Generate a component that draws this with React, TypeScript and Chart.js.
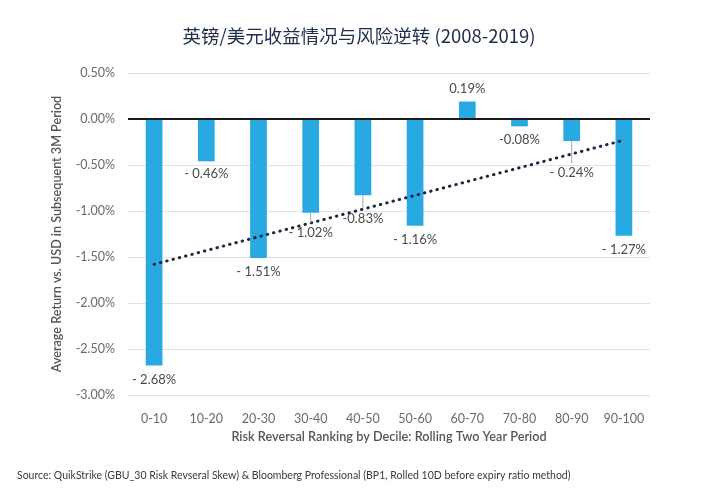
import React, { useEffect, useRef } from "react";
import { Chart, registerables } from "chart.js";

Chart.register(...registerables);

const deciles = ["0-10", "10-20", "20-30", "30-40", "40-50", "50-60", "60-70", "70-80", "80-90", "90-100"];
const avgReturn = [-2.68, -0.46, -1.51, -1.02, -0.83, -1.16, 0.19, -0.08, -0.24, -1.27];
const valueLabels = ["- 2.68%", "- 0.46%", "- 1.51%", "- 1.02%", "-0.83%", "- 1.16%", "0.19%", "-0.08%", "- 0.24%", "- 1.27%"];
const trendline = [-1.58, null, null, null, null, null, null, null, null, -0.23];

const chartTitle = "英镑/美元收益情况与风险逆转 (2008-2019)";
const sourceNote =
  "Source: QuikStrike (GBU_30 Risk Revseral Skew) & Bloomberg Professional (BP1, Rolled 10D before expiry ratio method)";

// distance from bar end to label centre, and which labels hang on a leader line
const labelGap = [14, 12, 14, 20, 23, 14, 13, 13, 32, 14];
const withLeader = [3, 4, 8];

const BAR_BLUE = "#29a9e1";
const FONT = "Lato, 'Noto Sans', sans-serif";

const annotations = {
  id: "annotations",
  afterDatasetsDraw(chart: Chart) {
    const { ctx } = chart;
    const meta = chart.getDatasetMeta(1);
    ctx.save();
    ctx.font = `13px ${FONT}`;
    ctx.textAlign = "center";
    ctx.textBaseline = "middle";
    meta.data.forEach((el: any, i: number) => {
      const v = avgReturn[i];
      const y = v < 0 ? el.y + labelGap[i] : el.y - labelGap[i];
      if (withLeader.includes(i)) {
        ctx.strokeStyle = "#a8a8a8";
        ctx.lineWidth = 1;
        ctx.beginPath();
        ctx.moveTo(el.x, el.y);
        ctx.lineTo(el.x, y - 10);
        ctx.stroke();
      }
      ctx.fillStyle = "#4a4a4a";
      ctx.fillText(valueLabels[i], el.x, y);
    });
    ctx.restore();
  },
  afterDraw(chart: Chart) {
    const { ctx } = chart;
    ctx.save();
    ctx.fillStyle = "#1d2e4b";
    ctx.font = `18.5px 'Noto Sans CJK SC', ${FONT}`;
    ctx.textAlign = "center";
    ctx.textBaseline = "middle";
    ctx.fillText(chartTitle, 359, 36);
    ctx.fillStyle = "#3a3a3a";
    ctx.font = `10.5px ${FONT}`;
    ctx.textAlign = "left";
    ctx.fillText(sourceNote, 17, 476);
    ctx.restore();
  },
};

export default function App() {
  const canvasRef = useRef<HTMLCanvasElement>(null);

  useEffect(() => {
    document.body.style.margin = "0";
    if (!canvasRef.current) return;

    const chart = new Chart(canvasRef.current, {
      type: "bar",
      data: {
        labels: deciles,
        datasets: [
          {
            type: "line",
            data: trendline,
            spanGaps: true,
            borderColor: "#1b2940",
            borderWidth: 3,
            borderDash: [0.5, 6],
            borderCapStyle: "round",
            pointRadius: 0,
            fill: false,
            order: 1,
          } as any,
          {
            data: avgReturn,
            backgroundColor: BAR_BLUE,
            barPercentage: 0.32,
            categoryPercentage: 1,
            order: 2,
          },
        ],
      },
      options: {
        animation: false,
        responsive: true,
        maintainAspectRatio: false,
        layout: { padding: { left: 0, right: 70, top: 73, bottom: 45 } },
        plugins: {
          legend: { display: false },
          tooltip: { enabled: false },
        },
        scales: {
          x: {
            grid: { display: false, drawTicks: false },
            border: { display: false },
            ticks: { color: "#6a6a6a", padding: 16, font: { family: FONT, size: 12.5 } },
            title: {
              display: true,
              text: "Risk Reversal Ranking by Decile: Rolling Two Year Period",
              color: "#555",
              font: { family: FONT, size: 12.7, weight: 600 },
              padding: { top: 0, bottom: 10 },
            },
            afterFit: (s: any) => {
              s.height = 60;
            },
          },
          y: {
            min: -3,
            max: 0.5,
            border: { display: false },
            grid: {
              drawTicks: false,
              color: (c: any) => (c.tick && c.tick.value === 0 ? "#1a1a1a" : "#e2e2e2"),
              lineWidth: (c: any) => (c.tick && c.tick.value === 0 ? 2 : 1),
            },
            ticks: {
              stepSize: 0.5,
              padding: 13,
              color: "#6a6a6a",
              font: { family: FONT, size: 12.5 },
              callback: (v: any) => `${Number(v).toFixed(2)}%`,
            },
            title: {
              display: true,
              text: "Average Return vs. USD in Subsequent 3M Period",
              color: "#555",
              font: { family: FONT, size: 12.6, weight: 600 },
              padding: { top: 49, bottom: 0 },
            },
            afterFit: (s: any) => {
              s.width = 128;
            },
          },
        },
      },
      plugins: [annotations],
    });

    return () => {
      chart.destroy();
    };
  }, []);

  return (
    <div style={{ width: 720, height: 500, background: "#fff" }}>
      <canvas ref={canvasRef} />
    </div>
  );
}
